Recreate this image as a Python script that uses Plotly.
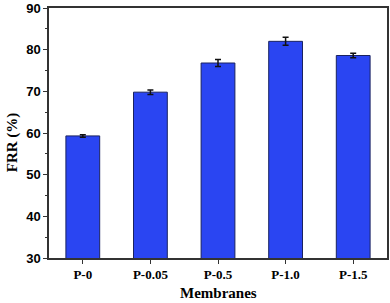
import plotly.graph_objects as go

categories = ["P-0", "P-0.05", "P-0.5", "P-1.0", "P-1.5"]
frr = [59.3, 69.8, 76.8, 82.0, 78.6]
err = [0.3, 0.55, 0.85, 0.95, 0.55]
y_ticks = [30, 40, 50, 60, 70, 80, 90]

fig = go.Figure()
fig.add_trace(go.Bar(
    x=categories, y=frr,
    width=0.5,
    marker=dict(color="#2a45f2", line=dict(color="#1a2360", width=1)),
    error_y=dict(type="data", array=err, visible=True, color="#111111", thickness=1.5, width=3),
))

fig.update_layout(
    width=390, height=303,
    margin=dict(l=49, r=3, t=8, b=45),
    paper_bgcolor="white", plot_bgcolor="white",
    showlegend=False,
    xaxis=dict(
        range=[-0.5, 4.5], automargin=False,
        showline=True, linecolor="#333333", linewidth=1.5, mirror=True,
        ticks="outside", ticklen=4, tickwidth=1, tickcolor="#333333",
        tickfont=dict(family="Liberation Serif", size=13, color="black", weight="bold"),
    ),
    yaxis=dict(
        range=[30, 90], tickvals=y_ticks, automargin=False,
        ticklabeloverflow="allow",
        showline=True, linecolor="#333333", linewidth=1.5, mirror=True,
        ticks="outside", ticklen=4, tickwidth=1, tickcolor="#333333",
        minor=dict(ticks="outside", ticklen=2, dtick=5, tickcolor="#333333"),
        showgrid=False, zeroline=False,
        tickfont=dict(family="Liberation Sans", size=13, color="black", weight="bold"),
    ),
    annotations=[
        dict(text="<b>Membranes</b>", xref="paper", yref="paper", x=0.5, y=-0.14,
             xanchor="center", yanchor="middle", showarrow=False,
             font=dict(family="Liberation Serif", size=15, color="black")),
        dict(text="<b>FRR (%)</b>", xref="paper", yref="paper", x=-0.108, y=0.465,
             xanchor="center", yanchor="middle", showarrow=False, textangle=-90,
             font=dict(family="Liberation Serif", size=15, color="black")),
    ],
)

fig.write_html("out.html", config={"displayModeBar": False},
               post_script="document.body.style.margin='0';")
